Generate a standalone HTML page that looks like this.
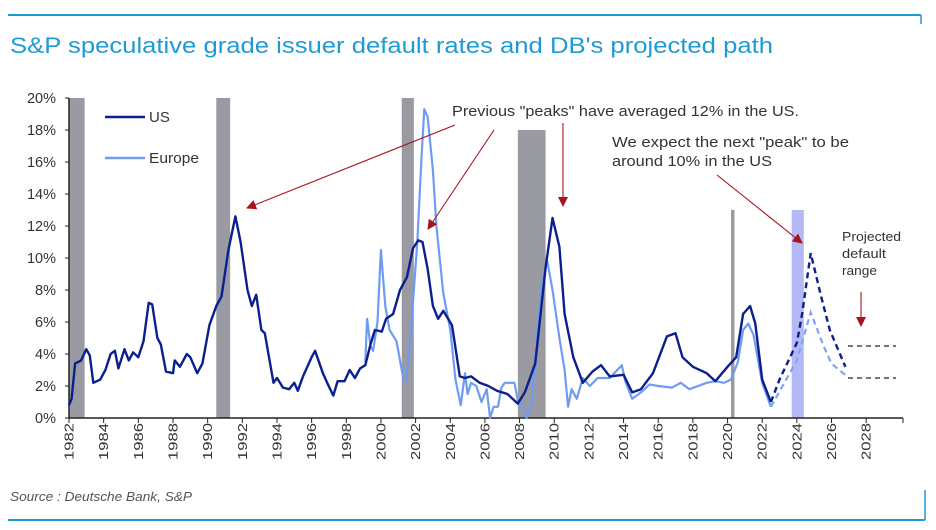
<!DOCTYPE html>
<html><head><meta charset="utf-8"><style>
body{margin:0;background:#fff;font-family:"Liberation Sans",sans-serif}
#wrap{position:relative;width:936px;height:530px;overflow:hidden}
</style></head><body>
<div id="wrap">
<svg id="svg" width="936" height="530" xmlns="http://www.w3.org/2000/svg">
<line x1="8" y1="15" x2="921" y2="15" stroke="#1e9bd7" stroke-width="2"/>
<line x1="921" y1="15" x2="921" y2="24" stroke="#1e9bd7" stroke-width="1.5"/>
<text x="10" y="53" font-size="22" fill="#1e9bd7" textLength="763" lengthAdjust="spacingAndGlyphs">S&amp;P speculative grade issuer default rates and DB's projected path</text>
<g id="plot"></g>
<text x="10" y="501" font-size="12.5" font-style="italic" fill="#555" textLength="182" lengthAdjust="spacingAndGlyphs">Source : Deutsche Bank, S&amp;P</text>
<line x1="8" y1="520" x2="925" y2="520" stroke="#1e9bd7" stroke-width="2"/>
<line x1="925" y1="490" x2="925" y2="520" stroke="#1e9bd7" stroke-width="1.5"/>
</svg>
</div>
<script>
const yTicks=[0,2,4,6,8,10,12,14,16,18,20];
const xTicks=[1982,1984,1986,1988,1990,1992,1994,1996,1998,2000,2002,2004,2006,2008,2010,2012,2014,2016,2018,2020,2022,2024,2026,2028];
const recessionStart=[1982.0,1990.5,2001.2,2007.9,2020.2];
const recessionEnd=[1982.9,1991.3,2001.9,2009.5,2020.4];
const recessionTop=[20,20,20,18,13];
const projBandStart=[2023.7];const projBandEnd=[2024.4];const projBandTop=[13];
const usYears=[1982.0,1982.15,1982.35,1982.7,1983.0,1983.2,1983.4,1983.8,1984.1,1984.4,1984.65,1984.85,1985.2,1985.45,1985.7,1986.0,1986.3,1986.6,1986.8,1987.1,1987.3,1987.6,1988.0,1988.1,1988.4,1988.8,1989.0,1989.4,1989.7,1990.1,1990.5,1990.8,1991.2,1991.6,1991.9,1992.3,1992.55,1992.8,1993.1,1993.3,1993.8,1994.0,1994.35,1994.7,1995.0,1995.2,1995.5,1996.0,1996.2,1996.65,1996.9,1997.25,1997.5,1997.9,1998.2,1998.5,1998.8,1999.1,1999.4,1999.65,2000.05,2000.3,2000.7,2001.1,2001.5,2001.85,2002.15,2002.4,2002.7,2003.0,2003.3,2003.6,2004.1,2004.55,2004.85,2005.2,2005.7,2006.2,2006.7,2007.3,2007.9,2008.3,2008.9,2009.5,2009.9,2010.3,2010.6,2011.1,2011.65,2012.2,2012.7,2013.2,2014.0,2014.5,2015.0,2015.7,2016.5,2017.0,2017.4,2018.0,2018.8,2019.3,2020.0,2020.5,2020.9,2021.3,2021.6,2022.0,2022.5];
const usValues=[0.8,1.2,3.4,3.6,4.3,3.9,2.2,2.4,3.0,4.0,4.2,3.1,4.3,3.6,4.1,3.8,4.8,7.2,7.1,5.0,4.6,2.9,2.8,3.6,3.2,4.0,3.8,2.8,3.4,5.8,7.0,7.6,10.5,12.6,11.0,8.0,7.0,7.7,5.5,5.3,2.2,2.5,1.9,1.8,2.2,1.7,2.6,3.8,4.2,2.8,2.2,1.4,2.3,2.3,3.0,2.5,3.1,3.3,4.6,5.5,5.4,6.2,6.5,8.0,8.8,10.6,11.1,11.0,9.3,7.0,6.2,6.7,5.8,2.6,2.5,2.6,2.2,2.0,1.7,1.5,0.9,1.6,3.4,9.4,12.5,10.7,6.5,3.8,2.2,2.9,3.3,2.6,2.7,1.6,1.8,2.8,5.1,5.3,3.8,3.2,2.8,2.3,3.2,3.8,6.5,7.0,5.9,2.4,1.0];
const euYears=[1999.1,1999.2,1999.4,1999.55,1999.8,2000.0,2000.25,2000.5,2000.9,2001.3,2001.45,2001.7,2002.1,2002.35,2002.5,2002.7,2003.0,2003.2,2003.6,2004.0,2004.3,2004.6,2004.85,2005.0,2005.2,2005.5,2005.8,2006.1,2006.3,2006.5,2006.75,2006.95,2007.15,2007.7,2007.9,2008.2,2008.4,2008.7,2009.0,2009.3,2009.6,2009.9,2010.3,2010.6,2010.8,2011.0,2011.3,2011.65,2012.05,2012.5,2013.2,2013.9,2014.1,2014.5,2015.0,2015.5,2016.0,2016.8,2017.3,2017.8,2018.3,2018.8,2019.3,2019.8,2020.2,2020.6,2020.9,2021.2,2021.5,2022.0,2022.5];
const euValues=[3.5,6.2,4.5,4.2,6.0,10.5,7.0,5.5,4.8,2.4,2.3,5.0,11.0,16.5,19.3,18.8,15.5,12.0,7.8,5.5,2.4,0.8,2.8,1.5,2.2,2.0,1.0,1.8,0.0,0.7,0.7,1.9,2.2,2.2,1.1,0.7,0.0,1.0,5.0,8.5,9.8,8.0,5.0,3.0,0.7,1.8,1.2,2.5,2.0,2.5,2.5,3.3,2.3,1.2,1.6,2.1,2.0,1.9,2.2,1.8,2.0,2.2,2.3,2.2,2.4,3.5,5.5,5.9,5.2,2.2,0.7];
const usProjYears=[2022.5,2023.0,2024.0,2024.3,2024.8,2025.4,2025.9,2026.8];
const usProjValues=[1.0,2.4,4.7,6.5,10.3,7.6,5.5,3.2];
const euProjYears=[2022.5,2024.0,2024.8,2025.5,2026.0,2026.9];
const euProjValues=[0.7,3.6,6.6,4.6,3.4,2.6];
const rangeValues=[4.5,2.5];

const X0=69,PXY=17.33,Y0=418,PXP=16;
const xs=y=>X0+(y-1982)*PXY, ys=v=>Y0-v*PXP;
const NS="http://www.w3.org/2000/svg", g=document.getElementById('plot');
function mk(t,a){const e=document.createElementNS(NS,t);for(const k in a)e.setAttribute(k,a[k]);g.appendChild(e);return e;}
recessionStart.forEach((s,i)=>{const r=mk('rect',{x:xs(s),y:ys(recessionTop[i]),width:xs(recessionEnd[i])-xs(s),height:ys(0)-ys(recessionTop[i]),fill:'#9a9aa2'});

});
projBandStart.forEach((s,i)=>{const r=mk('rect',{x:xs(s),y:ys(projBandTop[i]),width:xs(projBandEnd[i])-xs(s),height:ys(0)-ys(projBandTop[i]),fill:'#b4b8f5'});

});
let a=mk('line',{x1:X0,y1:ys(20),x2:X0,y2:Y0,stroke:'#222','stroke-width':1.5});


a=mk('line',{x1:X0,y1:Y0,x2:903,y2:Y0,stroke:'#222','stroke-width':1.5});


mk('line',{x1:903,y1:Y0,x2:903,y2:Y0+5,stroke:'#222'});
yTicks.forEach(v=>{mk('line',{x1:X0-4,y1:ys(v),x2:X0,y2:ys(v),stroke:'#222'});
const t=mk('text',{x:56,y:ys(v)+5,'text-anchor':'end','font-size':14.5,fill:'#333'});t.textContent=v+'%';

});
xTicks.forEach(v=>{mk('line',{x1:xs(v),y1:Y0,x2:xs(v),y2:Y0+5,stroke:'#222'});
const t=mk('text',{x:0,y:0,'text-anchor':'end','font-size':13,fill:'#333',textLength:37,lengthAdjust:'spacingAndGlyphs',transform:`translate(${xs(v)+4.5},${Y0+5}) rotate(-90)`});t.textContent=v;

});
function pts(xv,yv){return xv.map((x,i)=>xs(x).toFixed(1)+','+ys(yv[i]).toFixed(1)).join(' ');}
let l=mk('polyline',{points:pts(euYears,euValues),fill:'none',stroke:'#6f9cf0','stroke-width':2.2,'stroke-linejoin':'round'});


l=mk('polyline',{points:pts(usYears,usValues),fill:'none',stroke:'#0b1f8f','stroke-width':2.4,'stroke-linejoin':'round'});


l=mk('polyline',{points:pts(euProjYears,euProjValues),fill:'none',stroke:'#7fa6f0','stroke-width':2.2,'stroke-dasharray':'6,4'});


l=mk('polyline',{points:pts(usProjYears,usProjValues),fill:'none',stroke:'#0b1f8f','stroke-width':2.4,'stroke-dasharray':'6,4'});


rangeValues.forEach(v=>{const r=mk('line',{x1:848,y1:ys(v),x2:896,y2:ys(v),stroke:'#222','stroke-width':1.3,'stroke-dasharray':'5,4'});

});
mk('line',{x1:105,y1:117,x2:145,y2:117,stroke:'#0b1f8f','stroke-width':2.5});
let t=mk('text',{x:149,y:122,'font-size':15,fill:'#333'});t.textContent='US';


mk('line',{x1:105,y1:158,x2:145,y2:158,stroke:'#6f9cf0','stroke-width':2.5});
t=mk('text',{x:149,y:163,'font-size':15,fill:'#333',textLength:50,lengthAdjust:'spacingAndGlyphs'});t.textContent='Europe';


const defs=document.createElementNS(NS,'defs');defs.innerHTML='<marker id="ah" markerWidth="10" markerHeight="10" refX="9" refY="5" orient="auto" markerUnits="userSpaceOnUse" viewBox="0 0 10 10"><path d="M0,0 L10,5 L0,10 z" fill="#a8141c"/></marker>';
document.getElementById('svg').appendChild(defs);
function arrow(x1,y1,x2,y2){const e=mk('line',{x1,y1,x2,y2,stroke:'#a8141c','stroke-width':1.1,'marker-end':'url(#ah)'});

}
arrow(455,125,247,208);arrow(494,130,428,229);arrow(563,123,563,206);arrow(717,175,802,243);arrow(861,292,861,326);
function txt(x,y,s,fs,n,w){const e=mk('text',{x,y,'font-size':fs,fill:'#333',textLength:w,lengthAdjust:'spacingAndGlyphs'});e.textContent=s;

}
txt(452,116,'Previous "peaks" have averaged 12% in the US.',14.5,'peaks-annotation',347);
txt(612,147,'We expect the next "peak" to be',14.5,'next-peak-annotation',237);
txt(612,166,'around 10% in the US',14.5,'next-peak-annotation-line2',160);
txt(842,241,'Projected',13,'projected-label',59);
txt(842,258,'default',13,'projected-label-line2',44);
txt(842,275,'range',13,'projected-label-line3',35);
</script>
</body></html>
